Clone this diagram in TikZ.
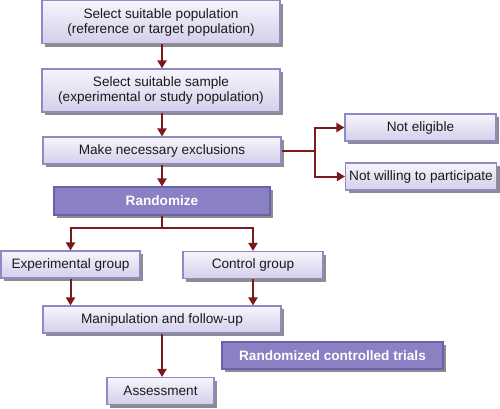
\documentclass[tikz,border=0pt]{standalone}
\usepackage{fontspec}
\setmainfont{Liberation Sans}
\usetikzlibrary{arrows.meta,shadows}
\definecolor{boxborder}{HTML}{8F89C4}
\definecolor{boxtop}{HTML}{F6F5FC}
\definecolor{boxbot}{HTML}{D3CFEA}
\definecolor{darkfill}{HTML}{8A80C4}
\definecolor{darkborder}{HTML}{6A61AB}
\definecolor{arrowred}{HTML}{7B1A1A}
\definecolor{txt}{HTML}{1A1A1A}
\definecolor{shadowgray}{HTML}{8C8C8C}
\begin{document}
\begin{tikzpicture}[x=1pt,y=-1pt,
  lbox/.style={draw=boxborder, line width=1.1pt, top color=boxtop, bottom color=boxbot,
    align=center, inner sep=1pt, text=txt,
    font=\fontsize{13.6}{15}\selectfont,
    drop shadow={shadow xshift=3pt, shadow yshift=-3pt, fill=shadowgray, opacity=1}},
  dbox/.style={draw=darkborder, line width=1.1pt, fill=darkfill, text=white,
    align=center, inner sep=1pt,
    font=\fontsize{13.6}{15}\selectfont\bfseries,
    drop shadow={shadow xshift=3pt, shadow yshift=-3pt, fill=shadowgray, opacity=1}},
  conn/.style={draw=arrowred, line width=2pt},
  arr/.style={conn, -{Triangle[length=8pt,width=9pt]}}
]
\useasboundingbox (0,0) rectangle (500,408);

\node[lbox, minimum width=238pt, minimum height=43pt] (n1) at (161,22)
  {Select suitable population\\(reference or target population)};
\node[lbox, minimum width=238pt, minimum height=43pt] (n2) at (161,90.5)
  {Select suitable sample\\(experimental or study population)};
\node[lbox, minimum width=238pt, minimum height=27pt] (n3) at (162,150.5)
  {Make necessary exclusions};
\node[dbox, minimum width=216pt, minimum height=28pt] (rand) at (162,201)
  {Randomize};
\node[lbox, minimum width=151pt, minimum height=27pt] (ne) at (420.5,127.5)
  {Not eligible};
\node[lbox, minimum width=151pt, minimum height=27pt] (nw) at (421,176.5)
  {Not willing to participate};
\node[lbox, minimum width=139pt, minimum height=27pt] (exp) at (70.5,264.5)
  {Experimental group};
\node[lbox, minimum width=140pt, minimum height=27pt] (ctrl) at (253,265)
  {Control group};
\node[lbox, minimum width=238pt, minimum height=27pt] (man) at (162,319.5)
  {Manipulation and follow-up};
\node[dbox, minimum width=221pt, minimum height=27pt] (rct) at (332.5,355.5)
  {Randomized controlled trials};
\node[lbox, minimum width=107pt, minimum height=27pt] (ass) at (160.5,391)
  {Assessment};

\coordinate (split) at (162,228);
\coordinate (br) at (315,150.5);

\draw[arr] (n1.south -| 162,0) -- (n2.north -| 162,0);
\draw[arr] (n2.south -| 162,0) -- (n3.north);
\draw[arr] (n3.south) -- (rand.north);
\draw[conn] (n3.east) -- (br);
\draw[arr] (br) |- (ne.west);
\draw[arr] (br) |- (nw.west);
\draw[conn] (rand.south) -- (split);
\draw[arr] (split) -| (exp.north);
\draw[arr] (split) -| (ctrl.north);
\draw[arr] (exp.south) -- (exp.south |- man.north);
\draw[arr] (ctrl.south) -- (ctrl.south |- man.north);
\draw[arr] (man.south) -- (man.south |- ass.north);
\end{tikzpicture}
\end{document}
